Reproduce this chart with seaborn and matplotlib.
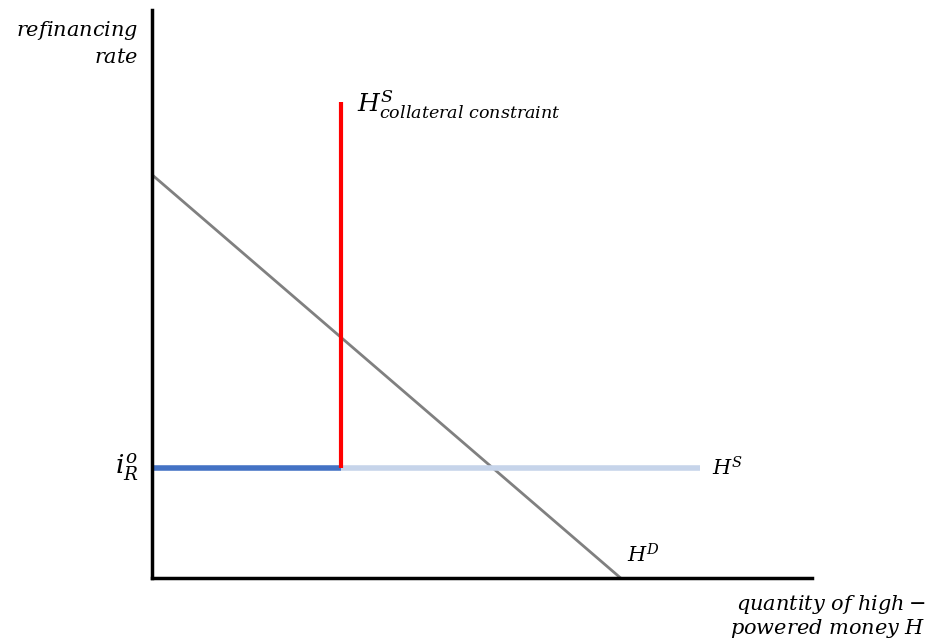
import numpy as np
import pandas as pd
import seaborn as sns
import matplotlib.pyplot as plt

# Curve end points (abstract units, axes go 0..10)
demand_x = [0.0, 7.1]
demand_y = [7.1, 0.0]
collateral_x = [2.86, 2.86]
collateral_y = [1.94, 8.38]
supply_lo_x = [0.0, 2.86]      # part of H^S actually available (dark)
supply_hi_x = [2.86, 8.30]     # part cut off by collateral (light)
supply_y = [1.94, 1.94]

sns.set_style("white")
plt.rcParams['mathtext.fontset'] = 'dejavuserif'
plt.rcParams['text.color'] = 'black'

fig = plt.figure(figsize=(9.31, 6.41), dpi=100)
ax = fig.add_axes([152/931, 63/641, 660/931, 568/641])

sns.lineplot(x=demand_x, y=demand_y, color="#808080", lw=2, ax=ax, solid_capstyle="butt")
sns.lineplot(x=supply_hi_x, y=supply_y, color="#c6d4ea", lw=4, ax=ax, solid_capstyle="butt")
sns.lineplot(x=supply_lo_x, y=supply_y, color="#4472c4", lw=4, ax=ax, solid_capstyle="butt")
sns.lineplot(x=collateral_x, y=collateral_y, color="#ff0000", lw=3, ax=ax, orient="y",
             solid_capstyle="butt")

ax.set_xlim(0, 10)
ax.set_ylim(0, 10)
ax.set_xticks([])
ax.set_yticks([])
for s in ["top", "right"]:
    ax.spines[s].set_visible(False)
for s in ["left", "bottom"]:
    ax.spines[s].set_color("black")
    ax.spines[s].set_linewidth(2.5)

fs = 15
# labels
fig.text(138/931, 1 - 30/641, r"$refinancing$", ha="right", va="center", fontsize=fs)
fig.text(138/931, 1 - 57/641, r"$rate$", ha="right", va="center", fontsize=fs)
fig.text(926/931, 1 - 604/641, r"$quantity\ of\ high -$", ha="right", va="center", fontsize=fs)
fig.text(926/931, 1 - 629/641, r"$powered\ money\ H$", ha="right", va="center", fontsize=fs)
ax.text(collateral_x[1] + 0.25, collateral_y[1] - 0.05, r"$H^S_{collateral\ constraint}$",
        ha="left", va="center", fontsize=18)
ax.text(supply_hi_x[1] + 0.18, supply_y[0], r"$H^S$", ha="left", va="center", fontsize=fs)
ax.text(demand_x[1] + 0.1, 0.4, r"$H^D$", ha="left", va="center", fontsize=fs)
ax.text(-0.2, supply_y[0], r"$i_R^o$", ha="right", va="center", fontsize=19, clip_on=False)

fig.savefig("out.png", dpi=100)
